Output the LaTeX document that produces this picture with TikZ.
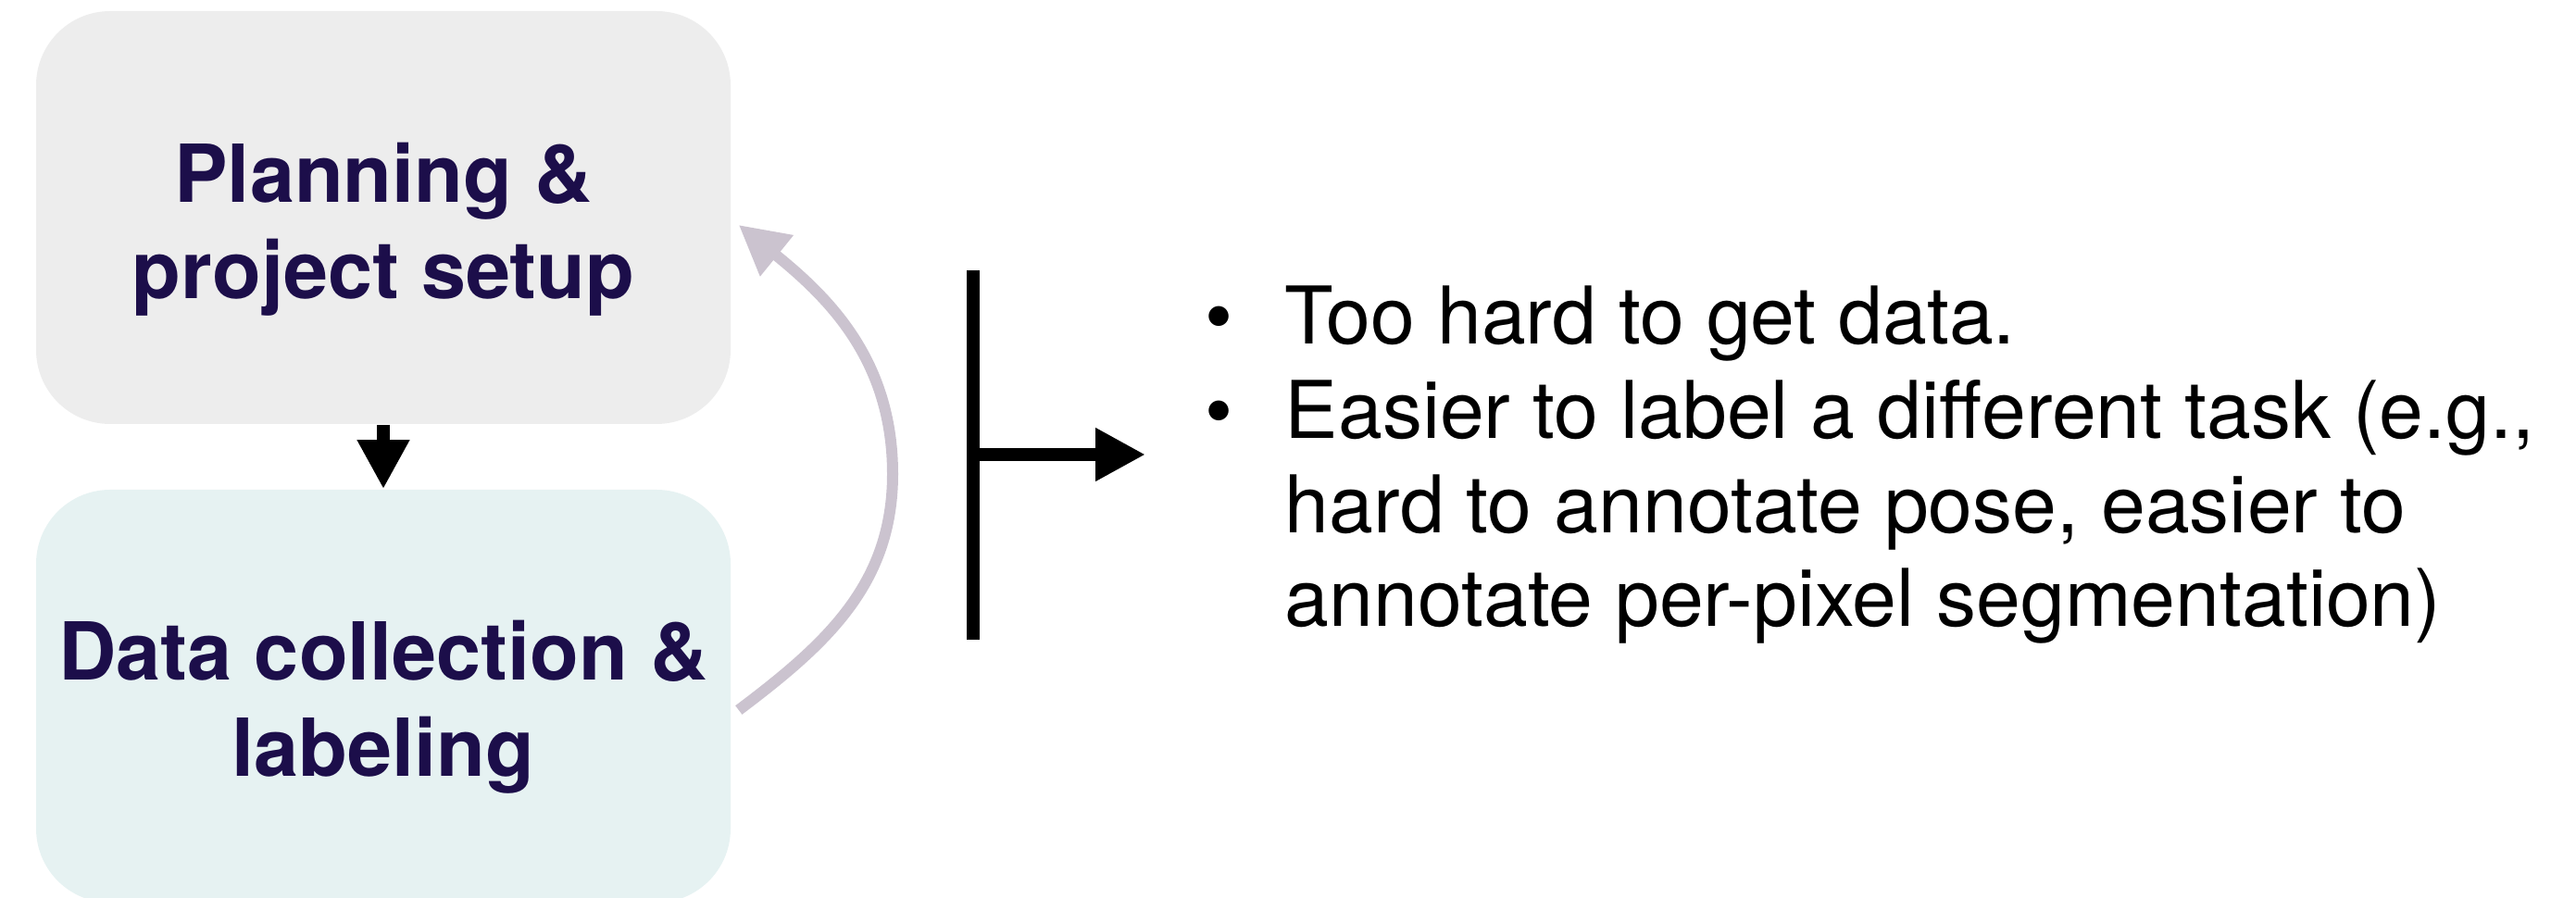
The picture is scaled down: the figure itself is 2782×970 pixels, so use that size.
\documentclass[tikz,border=0pt]{standalone}
\usepackage{fontspec}
\setmainfont{TeX Gyre Heros}
\usetikzlibrary{arrows.meta,calc}
\definecolor{boxgray}{RGB}{237,237,237}
\definecolor{boxteal}{RGB}{230,242,242}
\definecolor{navy}{RGB}{28,14,74}
\definecolor{loopcol}{RGB}{203,195,207}
\begin{document}
\begin{tikzpicture}[x=0.25pt,y=0.25pt,
  stagebox/.style={rounded corners=20pt, minimum width=187.5pt,
    minimum height=111.5pt, inner sep=0pt, draw=none},
  stagetext/.style={anchor=north, align=center, inner sep=0pt, text=navy,
    font=\fontsize{21.6pt}{26pt}\selectfont\bfseries},
  flow/.style={line width=3.5pt, -{Triangle[length=13.25pt,width=13.25pt]}},
  pointer/.style={line width=3.5pt, -{Triangle[length=13.5pt,width=13.5pt]}},
  back/.style={line width=3pt, draw=loopcol,
    -{Triangle[length=13.25pt,width=13.5pt]}},
]
\useasboundingbox (0,0) rectangle (2782,-970);
\clip (0,0) rectangle (2782,-970);

% the two stages
\node[stagebox, fill=boxgray] (plan) at (414,-235) {};
\node[stagebox, fill=boxteal] (data) at (414,-752) {};
\node[stagetext] (plantext) at (414,-153) {Planning \&\\project setup};
\node[stagetext] (datatext) at (414,-669) {Data collection \&\\labeling};

% forward step and the way back
\draw[flow] (plan.south) -- (data.north);
\coordinate (loopmid) at (964,-512);
\draw[back] ($(data.east)+(8,-15)$) to[out=37,in=-90] (loopmid)
  to[out=90,in=-39] ($(plan.east)+(8,-8)$);

% bracket pointing to the reasons
\coordinate (bartop) at (1051,-292);
\coordinate (barbot) at (1051,-691);
\coordinate (barmid) at (1051,-491);
\coordinate (barend) at (1237,-491);
\draw[line width=3.5pt] (bartop) -- (barbot);
\draw[pointer] (barmid) -- (barend);

\node[anchor=base west, inner sep=0pt,
  font=\fontsize{21.5pt}{25.4pt}\selectfont] (reasons) at (1301,-372)
  {\begin{tabular}[t]{@{}l@{\hspace{14pt}}l@{}}
   \textbullet & Too hard to get data.\\
   \textbullet & Easier to label a different task (e.g.,\\
               & hard to annotate pose, easier to\\
               & annotate per-pixel segmentation)
   \end{tabular}};
\end{tikzpicture}
\end{document}
